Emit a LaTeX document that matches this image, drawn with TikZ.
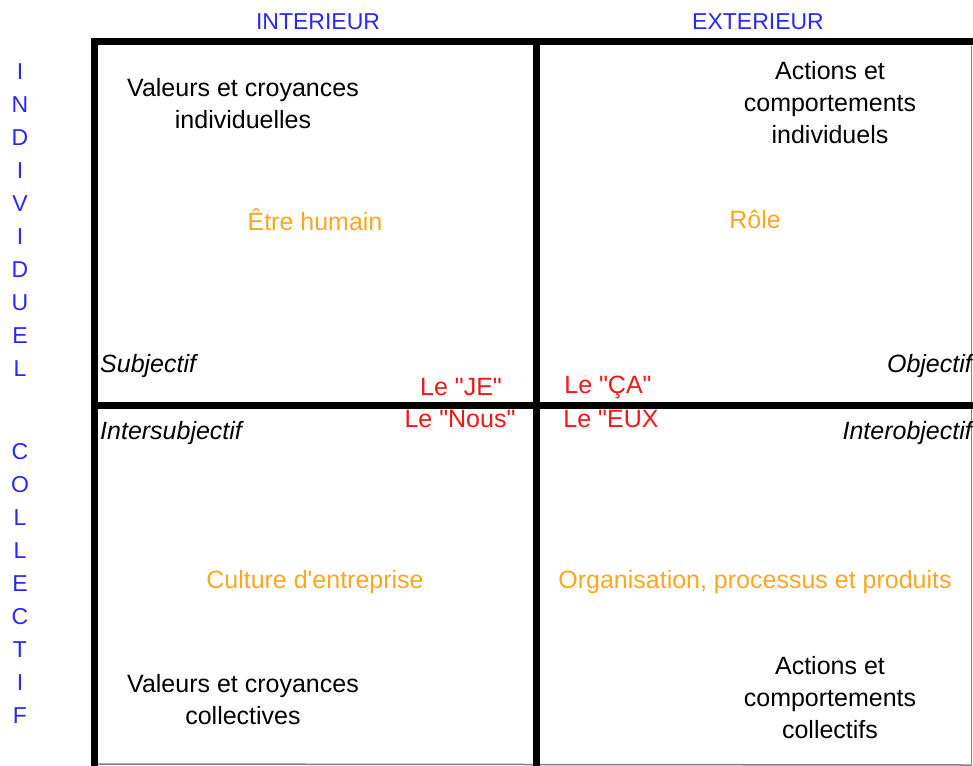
\documentclass[tikz,border=0pt]{standalone}
\usepackage{fontspec}
\setmainfont{Liberation Sans}[Ligatures=TeXOff]
\usetikzlibrary{positioning}
\definecolor{axeblue}{RGB}{40,40,250}
\definecolor{themeorange}{RGB}{255,165,30}
\definecolor{pronomred}{RGB}{250,20,20}
\tikzset{
cadre/.style = {draw, line width=7pt},
bord/.style  = {draw=gray, line width=1.5pt},
axe/.style   = {text=axeblue, font=\fontsize{23}{33}\selectfont, inner sep=0pt},
lettres/.style = {axe, align=center, font=\fontsize{23}{33}\selectfont},
texte/.style = {align=center, font=\fontsize{25}{32}\selectfont, inner sep=0pt},
theme/.style = {text=themeorange, font=\fontsize{25}{32}\selectfont, inner sep=0pt},
pronom/.style = {text=pronomred, font=\fontsize{25}{32}\selectfont, inner sep=0pt},
cote/.style  = {font=\fontsize{25}{32}\selectfont\itshape, inner sep=0pt}
}

\begin{document}
\begin{tikzpicture}[x=1pt, y=-1pt]
		\useasboundingbox (0,0) rectangle (973,765);
		% grille
		\coordinate (tl) at (94,42);
		\coordinate (tr) at (980,42);
		\coordinate (bl) at (94,775);
		\coordinate (mt) at (536,42);
		\coordinate (mb) at (536,775);
		\coordinate (ml) at (94,405);
		\coordinate (mr) at (980,405);
		\coordinate (rt) at (971.5,46);
		\coordinate (rb) at (971.5,765);
		\coordinate (bb) at (97,764);

		\draw [bord] (rt) -- (rb);
		\draw [bord] (bb) -- (rb);
		\draw [cadre] (bl) -- (tl) -- (tr);
		\draw [cadre] (mt) -- (mb);
		\draw [cadre] (ml) -- (mr);

		% axes
		\node [axe] (interieur) at (318,22) {INTERIEUR};
		\node [axe] (exterieur) at (758,22) {EXTERIEUR};
		\node [lettres] (individuel) at (20,220) {I\\N\\D\\I\\V\\I\\D\\U\\E\\L};
		\node [lettres] (collectif) at (20,583) {C\\O\\L\\L\\E\\C\\T\\I\\F};

		% quadrants
		\node [texte] (valind) at (243,104) {Valeurs et croyances\\individuelles};
		\node [texte] (actind) at (830,103) {Actions et\\comportements\\individuels};
		\node [theme] (humain) at (315,220) {Être humain};
		\node [theme] (role) at (755,220) {Rôle};

		\node [cote, anchor=west] (subj) at (100,366) {Subjectif};
		\node [cote, anchor=east] (obj) at (972,366) {Objectif};
		\node [cote, anchor=west] (intersubj) at (100,433) {Intersubjectif};
		\node [cote, anchor=east] (interobj) at (972,433) {Interobjectif};

		\node [pronom] (je) at (461,387) {Le "JE"};
		\node [pronom] (nous) at (460,419) {Le "Nous"};
		\node [pronom] (ca) at (608,387) {Le "ÇA"};
		\node [pronom] (eux) at (611,419) {Le "EUX};

		\node [theme] (culture) at (315,582) {Culture d'entreprise};
		\node [theme] (orga) at (755,582) {Organisation, processus et produits};
		\node [texte] (valcol) at (243,700) {Valeurs et croyances\\collectives};
		\node [texte] (actcol) at (830,698) {Actions et\\comportements\\collectifs};
\end{tikzpicture}
\end{document}
